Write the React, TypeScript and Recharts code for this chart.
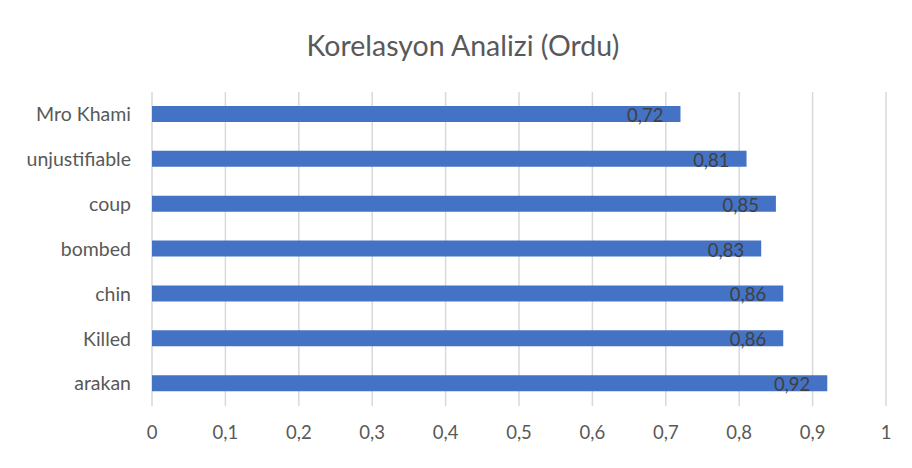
import { BarChart, Bar, XAxis, YAxis, CartesianGrid, LabelList } from "recharts";

const terms = ["Mro Khami", "unjustifiable", "coup", "bombed", "chin", "Killed", "arakan"];
const correlations = [0.72, 0.81, 0.85, 0.83, 0.86, 0.86, 0.92];
const xTicks = [0, 0.1, 0.2, 0.3, 0.4, 0.5, 0.6, 0.7, 0.8, 0.9, 1];

const data = terms.map((term, i) => ({ term, value: correlations[i] }));

const FONT = "Lato, 'Open Sans', sans-serif";
const TEXT = "#595959";

function fmtComma(v: number): string {
  return String(v).replace(".", ",");
}

function InsideEndLabel(props: any) {
  const { x, y, width, height, value } = props;
  return (
    <text
      x={x + width - 17}
      y={y + height / 2 + 1}
      textAnchor="end"
      dominantBaseline="central"
      fill="#404040"
      fontSize={18.5}
      fontFamily={FONT}
    >
      {fmtComma(value)}
    </text>
  );
}

export default function App() {
  return (
    <div
      style={{
        position: "relative",
        margin: -8,
        width: 912,
        height: 468,
        background: "#fff",
        fontFamily: FONT,
      }}
    >
      <div
        style={{
          position: "absolute",
          left: 7,
          top: 1,
          width: 898,
          height: 461,
          border: "1px solid #d0d0d0",
        }}
      />
      <div
        style={{
          position: "absolute",
          left: 0,
          top: 26,
          width: 926,
          textAlign: "center",
          fontSize: 28.5,
          color: TEXT,
          lineHeight: "38px",
        }}
      >
        Korelasyon Analizi (Ordu)
      </div>
      <div style={{ position: "absolute", left: 0, top: 0 }}>
        <BarChart
          width={912}
          height={468}
          data={data}
          layout="vertical"
          margin={{ top: 92, right: 26, left: 0, bottom: 32 }}
        >
          <CartesianGrid horizontal={false} stroke="#d9d9d9" strokeWidth={1.5} />
          <XAxis
            type="number"
            domain={[0, 1]}
            ticks={xTicks}
            tickFormatter={fmtComma}
            axisLine={false}
            tickLine={false}
            tickMargin={14}
            height={30}
            tick={{ fontSize: 18.5, fill: TEXT, fontFamily: FONT }}
          />
          <YAxis
            type="category"
            dataKey="term"
            width={152}
            axisLine={false}
            tickLine={false}
            tickMargin={15}
            tick={{ fontSize: 19.5, fill: TEXT, fontFamily: FONT }}
          />
          <Bar dataKey="value" fill="#4472C4" barSize={16} isAnimationActive={false}>
            <LabelList dataKey="value" content={<InsideEndLabel />} />
          </Bar>
        </BarChart>
      </div>
    </div>
  );
}
